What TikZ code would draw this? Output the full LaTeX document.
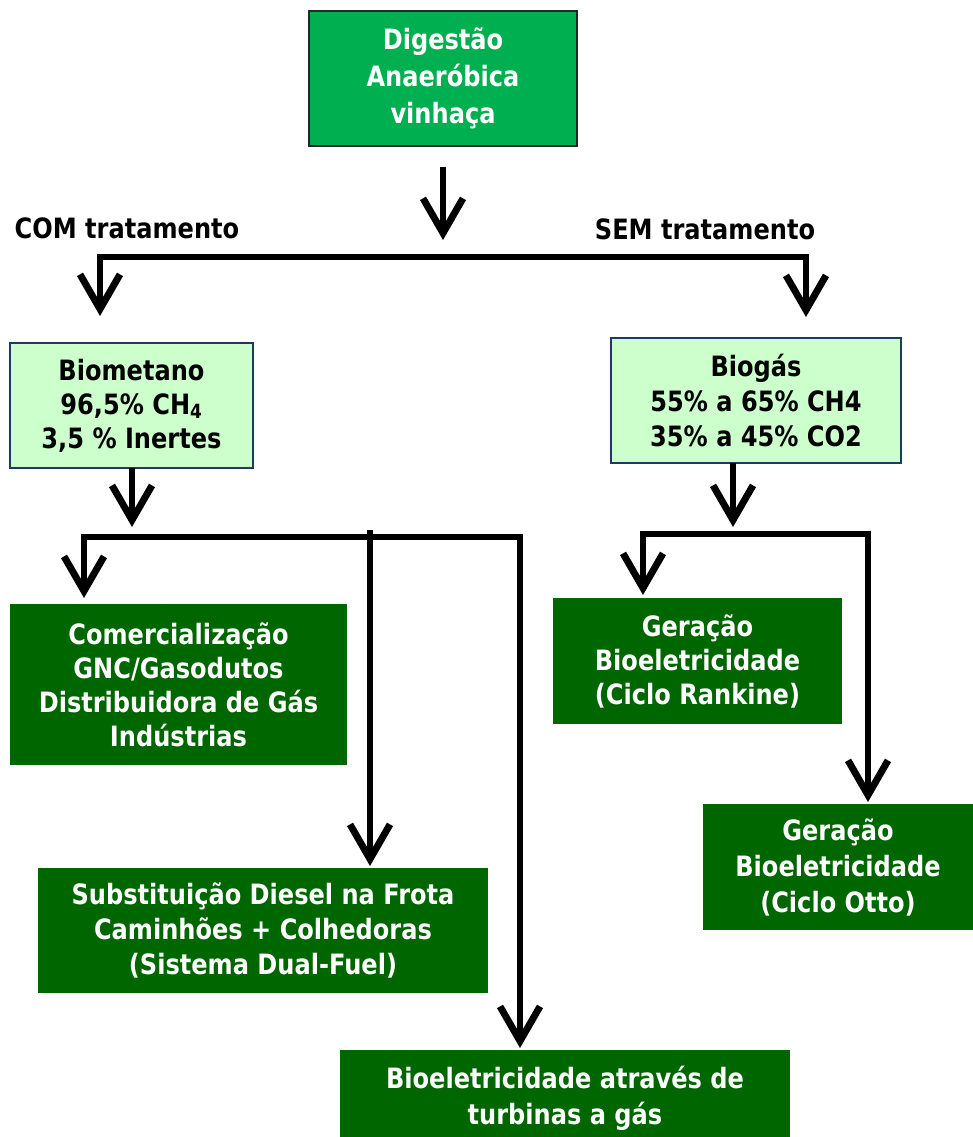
\documentclass[tikz,border=0pt]{standalone}
\usepackage{fontspec}
\setmainfont{DejaVu Sans}[FakeStretch=0.86]
\usetikzlibrary{arrows.meta}
\definecolor{brightgreen}{HTML}{00B050}
\definecolor{darkgreen}{HTML}{006600}
\definecolor{palegreen}{HTML}{CCFFCC}
\definecolor{navyedge}{HTML}{1F3A60}
\begin{document}
\begin{tikzpicture}[x=0.75pt,y=-0.75pt,
  every node/.style={font=\fontsize{21}{25.5}\selectfont\bfseries, align=center, inner sep=0pt},
  topbox/.style={draw=black!85, line width=1.2pt, fill=brightgreen, text=white},
  gasbox/.style={draw=navyedge, line width=1pt, fill=palegreen, text=black},
  usebox/.style={fill=darkgreen, text=white},
  flow/.style={line width=5.2pt, -{Straight Barb[length=26pt,width=30pt]}},
  flowboth/.style={line width=5.2pt, {Straight Barb[length=26pt,width=30pt]}-{Straight Barb[length=26pt,width=30pt]}}]
\clip (0,0) rectangle (973,1137);
\fill[white] (0,0) rectangle (973,1137);

% boxes
\node[topbox, minimum width=268*0.75pt, minimum height=135*0.75pt] (top) at (443,78.5)
  {Digestão\\[2.5pt] Anaeróbica\\[2.5pt] vinhaça};
\node[gasbox, minimum width=243*0.75pt, minimum height=125*0.75pt] (biomet) at (131.5,405.5)
  {Biometano\\ 96,5\% CH\textsubscript{4}\\ 3,5 \% Inertes};
\node[gasbox, minimum width=290*0.75pt, minimum height=125*0.75pt] (biogas) at (756,400.5)
  {Biogás\\[0.75pt] 55\% a 65\% CH4\\[0.75pt] 35\% a 45\% CO2};
\node[usebox, minimum width=337*0.75pt, minimum height=161*0.75pt] (comerc) at (178.5,684.5)
  {Comercialização\\ GNC/Gasodutos\\ Distribuidora de Gás\\ Indústrias};
\node[usebox, minimum width=289*0.75pt, minimum height=126*0.75pt] (rankine) at (697.5,661)
  {Geração\\ Bioeletricidade\\ (Ciclo Rankine)};
\node[usebox, minimum width=270*0.75pt, minimum height=126*0.75pt] (otto) at (838,867)
  {Geração\\[1.5pt] Bioeletricidade\\[1.5pt] (Ciclo Otto)};
\node[usebox, minimum width=450*0.75pt, minimum height=125*0.75pt] (subst) at (263,930.5)
  {Substituição Diesel na Frota\\[0.75pt] Caminhões + Colhedoras\\[0.75pt] (Sistema Dual-Fuel)};
\node[usebox, minimum width=450*0.75pt, minimum height=96*0.75pt] (turb) at (565,1098)
  {Bioeletricidade através de\\[1.5pt] turbinas a gás};

% labels
\node[anchor=base] (com) at (127,239) {COM tratamento};
\node[anchor=base] (sem) at (705,240) {SEM tratamento};

% connector coordinates
\coordinate (topS) at (443,167);
\coordinate (topE) at (443,240);
\coordinate (barL) at (100,257);
\coordinate (barR) at (806,257);
\coordinate (bmIn) at (100,316);
\coordinate (bgIn) at (806,317);
\coordinate (bmS) at (132,468);
\coordinate (bmE) at (132,527);
\coordinate (lbarL) at (84,537);
\coordinate (lbarR) at (520,537);
\coordinate (cmIn) at (84,598);
\coordinate (midS) at (370,530);
\coordinate (sbIn) at (370,866);
\coordinate (tbIn) at (520,1048);
\coordinate (bgS) at (733,463);
\coordinate (bgE) at (733,527);
\coordinate (rbarL) at (643,534);
\coordinate (rbarR) at (868,534);
\coordinate (rkIn) at (643,595);
\coordinate (otIn) at (868,802);

% connectors
\draw[flow] (topS) -- (topE);
\draw[flowboth] (bmIn) -- (barL) -- (barR) -- (bgIn);
\draw[flow] (bmS) -- (bmE);
\draw[flowboth] (cmIn) -- (lbarL) -- (lbarR) -- (tbIn);
\draw[flow] (midS) -- (sbIn);
\draw[flow] (bgS) -- (bgE);
\draw[flowboth] (rkIn) -- (rbarL) -- (rbarR) -- (otIn);
\end{tikzpicture}
\end{document}
